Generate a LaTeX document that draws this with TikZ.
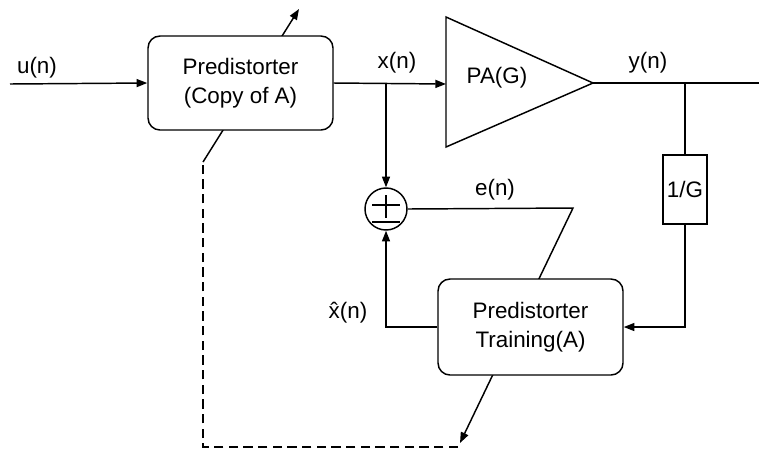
\documentclass[tikz,border=0pt]{standalone}
\usepackage{fontspec}
\setmainfont{Liberation Sans}
\usetikzlibrary{arrows.meta}
\begin{document}
\begin{tikzpicture}[x=0.75pt,y=-0.75pt, line width=1.1pt,
  blockbox/.style={draw, rounded corners=9pt, fill=white, inner sep=0pt, align=center,
    font=\fontsize{16.8}{21.5}\selectfont, minimum width=138.75pt},
  gainbox/.style={draw, fill=white, inner sep=0pt, minimum width=33pt, minimum height=51.75pt,
    font=\fontsize{16.8}{20}\selectfont},
  sumnode/.style={draw, circle, fill=white, inner sep=0pt, minimum size=31.5pt},
  lbl/.style={font=\fontsize{16.8}{20}\selectfont, inner sep=0pt},
  arr/.style={-{Triangle[length=8pt,width=6pt]}},
  dashline/.style={dashed, dash pattern=on 7pt off 4pt},
 ]
\useasboundingbox (0,0) rectangle (759,451);

% coordinates
\coordinate (in) at (10,84);
\coordinate (paIn) at (446,84);
\coordinate (paTop) at (446,17);
\coordinate (paBot) at (446,147);
\coordinate (paTip) at (593,83);
\coordinate (out) at (759,83);
\coordinate (xj) at (386,84);
\coordinate (yj) at (685,83);
\coordinate (fb) at (685,327);
\coordinate (adjS) at (203,162);
\coordinate (adjE) at (299,9);
\coordinate (eEnd) at (573,208);
\coordinate (adjT) at (460,443);
\coordinate (dashEnd) at (458,447);

% adaptation arrows (behind the boxes)
\draw[arr] (adjS) -- (adjE);

% nodes
\node[blockbox, minimum height=70.5pt] (pred) at (240.5,83) {Predistorter\\(Copy of A)};
\node[sumnode] (sum) at (386,209) {};
\node[gainbox] (inv) at (685,189.5) {1/G};

% e(n) line through training block
\draw[arr] (sum.east) -- (eEnd) -- (adjT);

\node[blockbox, minimum height=72pt] (train) at (530.5,327) {Predistorter\\Training(A)};

% PA triangle
\draw (paTop) -- (paTip) -- (paBot) -- cycle;
\node[lbl] (pa) at (497,78) {PA(G)};

% plus/minus in summing junction
\draw[line width=1pt] ([shift={(-14,-4)}]sum.center) -- ([shift={(14,-4)}]sum.center);
\draw[line width=1pt] ([shift={(0,-14)}]sum.center) -- ([shift={(0,9)}]sum.center);
\draw[line width=1pt] ([shift={(-14,13)}]sum.center) -- ([shift={(14,13)}]sum.center);

% connectors
\draw[arr] (in) -- (pred.west);
\draw[arr] (pred.east) -- (paIn);
\draw[arr] (xj) -- (sum.north);
\draw (paTip) -- (out);
\draw (yj) -- (inv.north);
\draw[arr] (inv.south) -- (fb) -- (train.east);
\draw[arr] (train.west) -| (sum.south);
\draw[dashline] (dashEnd) -| (adjS);

% labels
\node[lbl] (lu) at (37,68) {u(n)};
\node[lbl] (lx) at (397,63) {x(n)};
\node[lbl] (ly) at (648,63) {y(n)};
\node[lbl] (le) at (495,190) {e(n)};
\node[lbl] (lxh) at (348,313) {\^{x}(n)};
\end{tikzpicture}
\end{document}
